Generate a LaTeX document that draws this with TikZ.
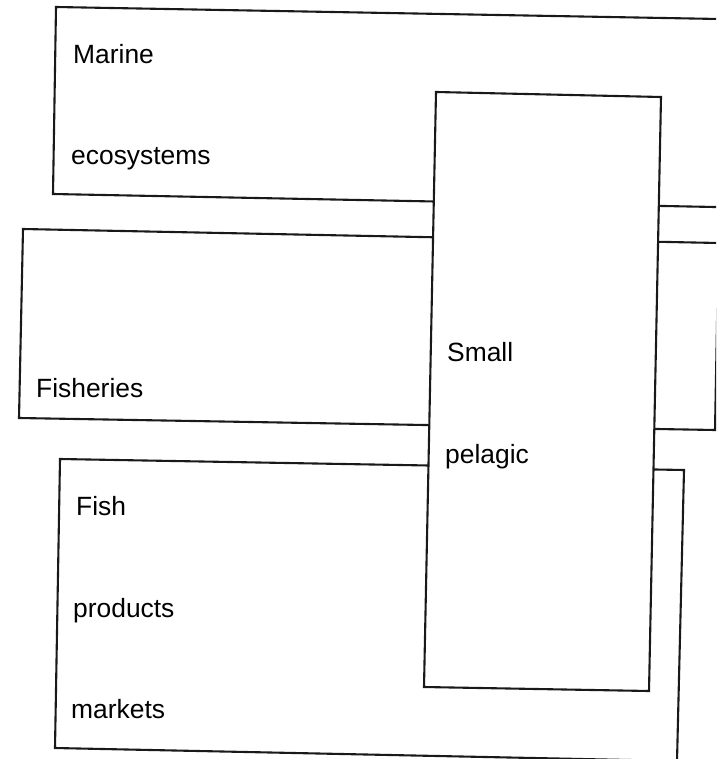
\documentclass[tikz,border=0pt]{standalone}
\usepackage{fontspec}
\setmainfont{Liberation Sans}
\begin{document}
\begin{tikzpicture}[x=1pt,y=-1pt,
  boxline/.style={draw=black!90,line width=2.1pt,line join=miter},
  label/.style={inner sep=0pt,anchor=base west,font=\fontsize{26.4}{30}\selectfont}]
\useasboundingbox (0,0) rectangle (716,759);
\clip (0,0) rectangle (716,759);
% Marine ecosystems box
\coordinate (a1) at (56,7);
\coordinate (a2) at (730,19.2);
\coordinate (a3) at (730,207.3);
\coordinate (a4) at (53,194);
\draw[boxline] (a1) -- (a2) -- (a3) -- (a4) -- cycle;
% Fisheries box
\coordinate (b1) at (23,229);
\coordinate (b2) at (718.5,243);
\coordinate (b3) at (715,430);
\coordinate (b4) at (19,418);
\draw[boxline] (b1) -- (b2) -- (b3) -- (b4) -- cycle;
% Fish products markets box
\coordinate (d1) at (60,459);
\coordinate (d2) at (684,470);
\coordinate (d3) at (677,761);
\coordinate (d4) at (55,748);
\draw[boxline] (d1) -- (d2) -- (d3) -- (d4) -- cycle;
% Small pelagic box (on top)
\coordinate (c1) at (436,92);
\coordinate (c2) at (661,97);
\coordinate (c3) at (649,691);
\coordinate (c4) at (424,687);
\draw[boxline,fill=white] (c1) -- (c2) -- (c3) -- (c4) -- cycle;
% Labels
\node[label] (tmarine) at (73,64) {Marine};
\node[label] (teco) at (71,165) {ecosystems};
\node[label] (tfish) at (36,397) {Fisheries};
\node[label] (tsmall) at (447,361) {Small};
\node[label] (tpel) at (445,463) {pelagic};
\node[label] (tfishp) at (76,515) {Fish};
\node[label] (tprod) at (73,617) {products};
\node[label] (tmark) at (71,718) {markets};
\end{tikzpicture}
\end{document}
